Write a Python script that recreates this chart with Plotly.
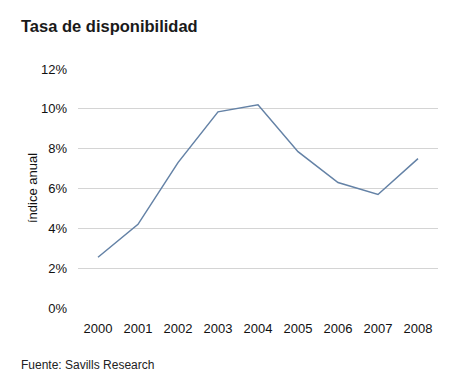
import plotly.graph_objects as go

years = ["2000", "2001", "2002", "2003", "2004", "2005", "2006", "2007", "2008"]
tasa = [2.55, 4.2, 7.3, 9.85, 10.2, 7.85, 6.3, 5.7, 7.5]
y_ticks = [0, 2, 4, 6, 8, 10, 12]
y_tick_labels = ["0%", "2%", "4%", "6%", "8%", "10%", "12%"]

# page body has an 8px offset; coordinates below are figure coordinates
OFF = 8
L, R, T, B = 78 - OFF, 24, 69 - OFF, 89
W, H = 454, 389
pw, ph = W - L - R, H - T - B
bottom = T + ph

fig = go.Figure()
fig.add_trace(go.Scatter(
    x=years, y=tasa, mode="lines",
    line=dict(color="#6482a6", width=1.5),
    hoverinfo="x+y",
))

fig.update_layout(
    width=W, height=H,
    margin=dict(l=L, r=R, t=T, b=B, autoexpand=False),
    paper_bgcolor="white", plot_bgcolor="white",
    font=dict(family="Liberation Sans, Arial, sans-serif", color="#111111", size=13),
    showlegend=False,
    title=dict(text="<b>Tasa de disponibilidad</b>", x=(21 - OFF) / W, xanchor="left",
               y=1 - (26 - OFF) / H, yanchor="middle", font=dict(size=16.5, color="#1a1a1a")),
    annotations=[
        dict(text="Fuente: Savills Research", xref="paper", yref="paper",
             x=-(L - (20 - OFF - 1)) / pw, y=-((365 - OFF) - bottom) / ph,
             xanchor="left", yanchor="middle",
             showarrow=False, font=dict(size=12, color="#222222")),
        dict(text="índice anual", xref="paper", yref="paper",
             x=-(L - (32 - OFF)) / pw, y=(bottom - (188 - OFF)) / ph,
             xanchor="center", yanchor="middle",
             textangle=-90, showarrow=False, font=dict(size=13, color="#111111")),
    ],
)
fig.update_xaxes(type="category", range=[-0.5, 8.5], showgrid=False, showline=False,
                 ticks="", automargin=False, ticklabelstandoff=11,
                 tickfont=dict(size=13, color="#111111"))
fig.update_yaxes(range=[0, 12], tickvals=y_ticks, ticktext=y_tick_labels,
                 showgrid=True, gridcolor="#d4d4d4", gridwidth=1,
                 zeroline=False, showline=False, ticks="", automargin=False,
                 ticklabelstandoff=10,
                 tickfont=dict(size=13, color="#111111"))

fig.write_html("out.html")
